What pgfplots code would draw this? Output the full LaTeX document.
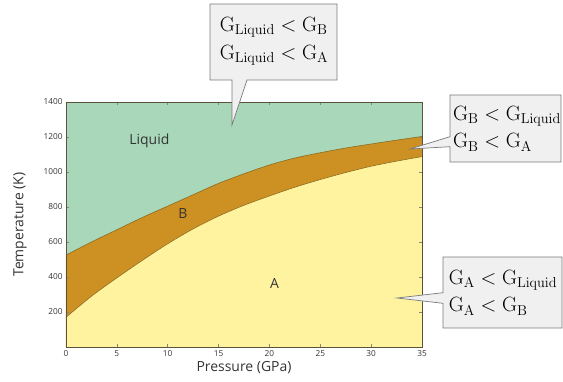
\documentclass[border=0pt]{standalone}
\usepackage{pgfplots}
\pgfplotsset{compat=1.18}
\usepackage[no-math]{fontspec}
\setmainfont{Open Sans}
\definecolor{liqgreen}{HTML}{A8D8B9}
\definecolor{bbrown}{HTML}{CC9122}
\definecolor{ayellow}{HTML}{FFF3A0}
\definecolor{edge}{HTML}{8C6B20}
\definecolor{frame}{HTML}{5B5339}
\definecolor{txt}{HTML}{333333}
\definecolor{boxfill}{HTML}{F0F0F0}
\definecolor{boxdraw}{HTML}{7A7A7A}
\begin{document}
\begin{tikzpicture}[x=1bp,y=1bp]
\begin{axis}[at={(0,0)}, anchor=south west, scale only axis,
  width=356bp, height=245bp,
  xmin=0, xmax=35, ymin=0, ymax=1400,
  xtick={0,5,...,35}, ytick={200,400,...,1400},
  axis on top,
  axis line style={frame, line width=0.9pt},
  tick style={frame!70, line width=0.6pt},
  major tick length=3bp,
  axis background/.style={fill=liqgreen},
  /pgf/number format/assume math mode=true,
  /pgf/number format/1000 sep={},
  tick label style={font=\fontsize{8.3}{10}\selectfont, text=txt},
  label style={font=\fontsize{14}{16}\selectfont, text=txt},
  xlabel={Pressure (GPa)},
  ylabel={Temperature (K)},
  xlabel style={at={(axis description cs:0.5,-0.082)}, anchor=center},
  ylabel style={at={(axis description cs:-0.129,0.5)}, anchor=center},
  clip=true,
]
\addplot[fill=bbrown, draw=none, smooth] coordinates {
  (0,525) (2.5,600) (5,670) (7.5,740) (10,805) (12.5,870) (15,935) (17.5,990) (20,1040) (22.5,1080) (25,1110) (27.5,1137) (30,1160) (32.5,1182) (35,1203)
} \closedcycle;
\addplot[fill=ayellow, draw=none, smooth] coordinates {
  (0,170) (2.5,290) (5,395) (7.5,495) (10,590) (12.5,675) (15,748) (17.5,810) (20,863) (22.5,913) (25,957) (27.5,997) (30,1033) (32.5,1062) (35,1088)
} \closedcycle;
\addplot[edge, line width=0.6pt, smooth] coordinates {
  (0,525) (2.5,600) (5,670) (7.5,740) (10,805) (12.5,870) (15,935) (17.5,990) (20,1040) (22.5,1080) (25,1110) (27.5,1137) (30,1160) (32.5,1182) (35,1203)
};
\addplot[edge, line width=0.6pt, smooth] coordinates {
  (0,170) (2.5,290) (5,395) (7.5,495) (10,590) (12.5,675) (15,748) (17.5,810) (20,863) (22.5,913) (25,957) (27.5,997) (30,1033) (32.5,1062) (35,1088)
};
\node[text=txt, font=\fontsize{14}{16}\selectfont] at (axis cs:8.2,1180) {Liquid};
\node[text=txt, font=\fontsize{14}{16}\selectfont] at (axis cs:11.5,762) {B};
\node[text=txt, font=\fontsize{14}{16}\selectfont] at (axis cs:20.5,364) {A};
\end{axis}
% callouts
\draw[boxdraw, fill=boxfill, line width=0.7pt]
  (144,343) -- (271,343) -- (271,267) -- (181,267) -- (166,222) -- (166,267) -- (144,267) -- cycle;
\draw[boxdraw, fill=boxfill, line width=0.7pt]
  (384,252) -- (495,252) -- (495,185) -- (384,185) -- (384,200.3) -- (344,198) -- (384,210.3) -- cycle;
\draw[boxdraw, fill=boxfill, line width=0.7pt]
  (377,90) -- (496,90) -- (496,19) -- (377,19) -- (377,43.7) -- (331,49) -- (377,54.3) -- cycle;
\node[font=\fontsize{19.5}{23}\selectfont, align=left, inner sep=0pt] at (208,306)
  {$\mathrm{G_{Liquid}} < \mathrm{G_B}$\\[5pt]$\mathrm{G_{Liquid}} < \mathrm{G_A}$};
\node[font=\fontsize{19.5}{23}\selectfont, align=left, inner sep=0pt] at (441,218.5)
  {$\mathrm{G_B} < \mathrm{G_{Liquid}}$\\[5pt]$\mathrm{G_B} < \mathrm{G_A}$};
\node[font=\fontsize{19.5}{23}\selectfont, align=left, inner sep=0pt] at (437,54.5)
  {$\mathrm{G_A} < \mathrm{G_{Liquid}}$\\[5pt]$\mathrm{G_A} < \mathrm{G_B}$};
\pgfresetboundingbox
\path (-66,-34) rectangle (497,347);
\end{tikzpicture}
\end{document}
